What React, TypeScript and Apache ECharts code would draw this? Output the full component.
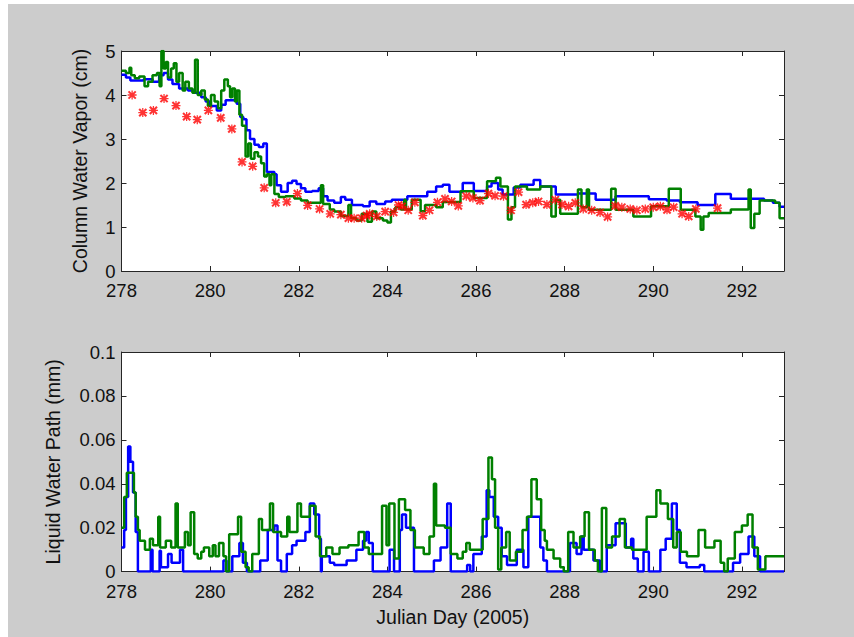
import React, { useEffect, useRef } from "react";
import * as echarts from "echarts";

// ---- x axis ----
const xMin = 278;
const xMax = 292.95;
const xInterval = 2;

// ---- top panel: Column Water Vapor (cm) ----
const cwvBlue: [number, number][] = [
  [278.0, 4.46], [278.1, 4.4], [278.2, 4.33], [278.5, 4.36], [278.7, 4.3], [278.85, 4.45],
  [278.95, 4.5], [279.05, 4.35], [279.15, 4.25], [279.3, 4.15], [279.5, 4.1], [279.65, 4.05],
  [279.8, 3.95], [279.9, 3.85], [280.0, 3.75], [280.15, 3.65], [280.25, 3.78], [280.35, 3.88],
  [280.6, 3.8], [280.68, 3.5], [280.75, 3.45], [280.82, 3.2], [280.9, 3.0], [281.0, 2.87],
  [281.1, 2.82], [281.2, 2.9], [281.28, 2.25], [281.45, 2.2], [281.5, 1.95], [281.6, 1.8],
  [281.75, 2.0], [281.85, 2.05], [281.95, 1.98], [282.05, 1.88], [282.15, 1.8], [282.3, 1.82],
  [282.45, 1.88], [282.55, 1.7], [282.65, 1.6], [282.8, 1.55], [282.95, 1.68], [283.05, 1.62],
  [283.2, 1.5], [283.45, 1.47], [283.6, 1.58], [283.75, 1.52], [283.95, 1.58], [284.1, 1.62],
  [284.45, 1.7], [284.9, 1.8], [285.1, 1.92], [285.25, 1.96], [285.4, 1.8], [285.7, 2.0],
  [285.95, 1.82], [286.25, 1.92], [286.35, 2.0], [286.5, 1.85], [286.6, 1.74], [286.85, 1.9],
  [287.0, 1.96], [287.3, 2.07], [287.45, 1.92], [287.8, 1.74], [288.3, 1.76], [288.7, 1.62],
  [289.15, 1.7], [289.9, 1.63], [290.3, 1.6], [290.6, 1.56], [291.0, 1.5], [291.4, 1.75],
  [291.75, 1.64], [292.5, 1.6], [292.7, 1.55], [292.85, 1.46], [292.95, 1.46],
];

const cwvGreen: [number, number][] = [
  [278.0, 4.55], [278.1, 4.5], [278.18, 4.62], [278.22, 4.45], [278.3, 4.38], [278.4, 4.42],
  [278.52, 4.2], [278.6, 4.3], [278.7, 4.45], [278.8, 4.5], [278.86, 4.2], [278.9, 5.0],
  [278.95, 4.6], [279.0, 4.75], [279.05, 4.4], [279.12, 4.6], [279.18, 4.72], [279.24, 4.3],
  [279.3, 4.5], [279.38, 4.1], [279.44, 4.3], [279.52, 4.15], [279.6, 4.05], [279.66, 4.8],
  [279.72, 4.0], [279.8, 4.1], [279.88, 3.9], [279.95, 3.75], [280.02, 4.0], [280.1, 3.85],
  [280.18, 3.7], [280.25, 4.1], [280.32, 4.35], [280.4, 4.2], [280.45, 3.95], [280.5, 4.15],
  [280.56, 3.85], [280.6, 4.1], [280.66, 3.55], [280.72, 3.3], [280.8, 2.6], [280.86, 2.9],
  [280.92, 2.55], [281.0, 2.7], [281.08, 2.6], [281.15, 2.45], [281.22, 2.15], [281.28, 2.2],
  [281.34, 1.95], [281.38, 2.2], [281.45, 1.75], [281.55, 1.68], [281.7, 1.7], [281.9, 1.65],
  [282.05, 1.6], [282.2, 1.55], [282.5, 1.95], [282.55, 1.52], [282.7, 1.4], [282.8, 1.35],
  [282.95, 1.25], [283.12, 1.5], [283.18, 1.2], [283.3, 1.15], [283.42, 1.3], [283.55, 1.12],
  [283.65, 1.35], [283.75, 1.2], [283.9, 1.15], [284.0, 1.1], [284.08, 1.35], [284.18, 1.45],
  [284.3, 1.4], [284.38, 1.62], [284.42, 1.4], [284.55, 1.62], [284.75, 1.36], [284.85, 1.5],
  [285.1, 1.45], [285.25, 1.57], [285.65, 1.81], [285.95, 1.66], [286.25, 2.04], [286.45, 2.12],
  [286.55, 1.92], [286.72, 1.17], [286.8, 1.45], [286.88, 1.92], [287.15, 1.85], [287.45, 1.92],
  [287.7, 1.24], [287.8, 1.62], [287.9, 1.3], [288.3, 1.85], [288.38, 1.45], [288.5, 1.85],
  [288.55, 1.39], [289.05, 1.87], [289.15, 1.39], [289.55, 1.24], [289.95, 1.47], [290.35, 1.87],
  [290.62, 1.39], [290.95, 1.24], [291.07, 0.94], [291.13, 1.24], [291.25, 1.32], [291.75, 1.4],
  [292.15, 1.85], [292.2, 0.98], [292.28, 1.3], [292.4, 1.6], [292.75, 1.55], [292.85, 1.2],
  [292.95, 1.2],
];

const cwvRed: [number, number][] = [
  [278.24, 4.0], [278.48, 3.6], [278.72, 3.65], [278.96, 3.92], [279.23, 3.76], [279.47, 3.51],
  [279.71, 3.44], [279.96, 3.65], [280.24, 3.48], [280.49, 3.23], [280.72, 2.48], [280.96, 2.38],
  [281.22, 1.89], [281.48, 1.55], [281.73, 1.57], [281.97, 1.76], [282.2, 1.49], [282.47, 1.41],
  [282.71, 1.3], [282.95, 1.28], [283.12, 1.2], [283.25, 1.2], [283.42, 1.2], [283.53, 1.26],
  [283.6, 1.3], [283.76, 1.24], [283.95, 1.35], [284.14, 1.33], [284.25, 1.5], [284.33, 1.47],
  [284.47, 1.38], [284.62, 1.56], [284.8, 1.26], [284.95, 1.38], [285.13, 1.56], [285.3, 1.64],
  [285.45, 1.58], [285.6, 1.48], [285.78, 1.7], [285.93, 1.66], [286.09, 1.6], [286.28, 1.76],
  [286.43, 1.71], [286.62, 1.7], [286.79, 1.38], [286.96, 1.79], [287.13, 1.51], [287.28, 1.55],
  [287.41, 1.58], [287.6, 1.51], [287.79, 1.62], [287.94, 1.51], [288.09, 1.47], [288.24, 1.55],
  [288.42, 1.41], [288.61, 1.38], [288.8, 1.33], [288.97, 1.23], [289.14, 1.48], [289.29, 1.45],
  [289.48, 1.41], [289.63, 1.38], [289.82, 1.41], [290.0, 1.45], [290.16, 1.47], [290.31, 1.39],
  [290.46, 1.45], [290.65, 1.3], [290.8, 1.24], [290.96, 1.41], [291.45, 1.43],
];

const cwvTicks = { min: 0, max: 5, interval: 1 };

// ---- bottom panel: Liquid Water Path (mm) ----
const lwpBlue: [number, number][] = [
  [278.0, 0.011], [278.06, 0.019], [278.1, 0.034], [278.15, 0.057], [278.2, 0.05], [278.26, 0.036],
  [278.32, 0.018], [278.37, 0.0], [278.66, 0.01], [278.7, 0.0], [278.86, 0.0095], [278.89, 0.002],
  [279.05, 0.008], [279.13, 0.004], [279.32, 0.01], [279.39, 0.0], [280.3, 0.005], [280.37, 0.0],
  [280.5, 0.007], [280.66, 0.013], [280.74, 0.004], [280.83, 0.0], [281.13, 0.005], [281.3, 0.019],
  [281.45, 0.021], [281.52, 0.005], [281.6, 0.0], [281.73, 0.008], [281.85, 0.012], [281.95, 0.014],
  [282.15, 0.018], [282.25, 0.031], [282.35, 0.026], [282.46, 0.015], [282.5, 0.0], [282.52, 0.007],
  [282.7, 0.004], [282.8, 0.003], [283.08, 0.005], [283.3, 0.01], [283.45, 0.014], [283.52, 0.018],
  [283.58, 0.013], [283.67, 0.0], [284.05, 0.01], [284.15, 0.0], [284.28, 0.019], [284.33, 0.026],
  [284.42, 0.02], [284.6, 0.0], [285.05, 0.005], [285.2, 0.011], [285.35, 0.031], [285.43, 0.0],
  [285.8, 0.003], [285.87, 0.0], [285.94, 0.008], [286.13, 0.016], [286.24, 0.037], [286.3, 0.034],
  [286.4, 0.025], [286.5, 0.02], [286.58, 0.007], [286.7, 0.003], [286.92, 0.01], [287.07, 0.002],
  [287.18, 0.025], [287.45, 0.011], [287.52, 0.005], [287.6, 0.0], [288.12, 0.013], [288.27, 0.008],
  [288.38, 0.016], [288.43, 0.01], [288.65, 0.005], [288.8, 0.0], [288.95, 0.012], [289.15, 0.022],
  [289.38, 0.011], [289.5, 0.015], [289.55, 0.006], [289.65, 0.0], [289.78, 0.009], [289.9, 0.0],
  [290.16, 0.01], [290.28, 0.015], [290.42, 0.031], [290.53, 0.019], [290.6, 0.004], [290.75, 0.002],
  [291.05, 0.003], [291.15, 0.0], [291.8, 0.004], [291.96, 0.008], [292.15, 0.016], [292.28, 0.007],
  [292.41, 0.0], [292.95, 0.0],
];

const lwpGreen: [number, number][] = [
  [278.0, 0.02], [278.06, 0.034], [278.12, 0.045], [278.28, 0.036], [278.32, 0.025], [278.37, 0.019],
  [278.41, 0.014], [278.53, 0.01], [278.64, 0.015], [278.71, 0.012], [278.83, 0.025], [278.87, 0.011],
  [279.0, 0.014], [279.12, 0.011], [279.22, 0.031], [279.27, 0.011], [279.43, 0.018], [279.5, 0.012],
  [279.56, 0.027], [279.64, 0.008], [279.72, 0.006], [279.8, 0.009], [279.86, 0.011], [279.98, 0.007],
  [280.06, 0.012], [280.12, 0.007], [280.2, 0.013], [280.3, 0.007], [280.36, 0.0], [280.43, 0.017],
  [280.63, 0.025], [280.7, 0.009], [280.8, 0.002], [280.87, 0.0], [280.95, 0.008], [281.1, 0.024],
  [281.17, 0.019], [281.35, 0.031], [281.42, 0.018], [281.6, 0.016], [281.74, 0.025], [281.79, 0.018],
  [281.97, 0.031], [282.05, 0.025], [282.25, 0.03], [282.38, 0.016], [282.48, 0.007], [282.62, 0.011],
  [282.76, 0.008], [282.92, 0.011], [283.12, 0.012], [283.35, 0.018], [283.48, 0.011], [283.58, 0.008],
  [283.88, 0.03], [283.98, 0.012], [284.04, 0.031], [284.16, 0.006], [284.26, 0.033], [284.4, 0.028],
  [284.52, 0.019], [284.62, 0.011], [284.82, 0.008], [284.95, 0.016], [285.05, 0.04], [285.1, 0.021],
  [285.3, 0.02], [285.43, 0.008], [285.58, 0.006], [285.7, 0.009], [285.78, 0.013], [285.86, 0.01],
  [286.15, 0.024], [286.28, 0.052], [286.36, 0.042], [286.43, 0.02], [286.5, 0.001], [286.57, 0.011],
  [286.68, 0.018], [286.76, 0.005], [286.9, 0.009], [287.05, 0.019], [287.15, 0.025], [287.25, 0.042],
  [287.37, 0.033], [287.47, 0.019], [287.55, 0.014], [287.6, 0.01], [287.75, 0.006], [287.9, 0.002],
  [287.98, 0.0], [288.08, 0.018], [288.2, 0.011], [288.35, 0.016], [288.45, 0.027], [288.55, 0.01],
  [288.68, 0.005], [288.75, 0.0], [288.84, 0.029], [288.94, 0.011], [289.07, 0.016], [289.24, 0.024],
  [289.36, 0.011], [289.52, 0.01], [289.85, 0.025], [290.07, 0.037], [290.16, 0.031], [290.33, 0.024],
  [290.45, 0.011], [290.53, 0.018], [290.62, 0.009], [290.76, 0.007], [291.02, 0.019], [291.17, 0.011],
  [291.38, 0.014], [291.52, 0.004], [291.6, 0.0], [291.68, 0.006], [291.84, 0.018], [292.0, 0.021],
  [292.13, 0.026], [292.24, 0.011], [292.36, 0.001], [292.53, 0.007], [292.95, 0.007],
];

const lwpTicks = { min: 0, max: 0.1, interval: 0.02 };

const labels = {
  cwv: "Column Water Vapor (cm)",
  lwp: "Liquid Water Path (mm)",
  x: "Julian Day (2005)",
};

const BLUE = "#0000ff";
const GREEN = "#008000";
const RED = "#ff0000";
const AX = "#262626";
const FONT = "Arial, 'Liberation Sans', sans-serif";

const STAR =
  "path://M0,4.3L10,4.3L10,5.7L0,5.7Z M4.3,0L5.7,0L5.7,10L4.3,10Z M0.2,1.8L1.8,0.2L9.8,8.2L8.2,9.8Z M8.2,0.2L9.8,1.8L1.8,9.8L0.2,8.2Z";

export default function App() {
  const ref = useRef<HTMLDivElement>(null);

  useEffect(() => {
    if (!ref.current) return;
    const chart = echarts.init(ref.current, undefined, { renderer: "svg" });

    const axisLine = { show: true, onZero: false, lineStyle: { color: AX, width: 1 } };
    const tick = { show: true, inside: true, length: 5, lineStyle: { color: AX, width: 1 } };
    const lbl = { color: "#111", fontSize: 19, fontFamily: FONT };
    const nameStyle = { color: "#111", fontSize: 19.5, fontFamily: FONT };
    const xLabelFmt = (v: number) => (Math.abs(v - Math.round(v)) < 1e-6 ? String(Math.round(v)) : "");

    const xBase = (grid: number, pos: "top" | "bottom", showLabel: boolean, name?: string) => ({
      type: "value",
      gridIndex: grid,
      position: pos,
      min: xMin,
      max: xMax,
      interval: xInterval,
      axisLine,
      axisTick: tick,
      splitLine: { show: false },
      axisLabel: showLabel
        ? { ...lbl, fontSize: 18.5, margin: 10, showMaxLabel: false, formatter: xLabelFmt }
        : { show: false },
      name: name,
      nameLocation: "middle",
      nameGap: 35,
      nameTextStyle: nameStyle,
    });

    const yBase = (
      grid: number,
      pos: "left" | "right",
      t: { min: number; max: number; interval: number },
      showLabel: boolean,
      name?: string,
      gap?: number
    ) => ({
      type: "value",
      gridIndex: grid,
      position: pos,
      min: t.min,
      max: t.max,
      interval: t.interval,
      axisLine,
      axisTick: tick,
      splitLine: { show: false },
      axisLabel: showLabel ? { ...lbl, fontSize: 18.5, margin: 6 } : { show: false },
      name: name,
      nameLocation: "middle",
      nameGap: gap ?? 30,
      nameTextStyle: nameStyle,
    });

    const lineSeries = (data: [number, number][], color: string, xi: number, yi: number, z: number) => ({
      type: "line",
      xAxisIndex: xi,
      yAxisIndex: yi,
      data,
      step: "end",
      showSymbol: false,
      symbol: "none",
      lineStyle: { color, width: 2.5 },
      itemStyle: { color },
      z,
      silent: true,
    });

    chart.setOption({
      animation: false,
      grid: [
        { left: 121.5, top: 51, width: 662.5, height: 220, show: true, backgroundColor: "#ffffff", borderWidth: 0 },
        { left: 121.5, top: 352, width: 662.5, height: 219.6, show: true, backgroundColor: "#ffffff", borderWidth: 0 },
      ],
      xAxis: [
        xBase(0, "bottom", true),
        xBase(0, "top", false),
        xBase(1, "bottom", true, labels.x),
        xBase(1, "top", false),
      ],
      yAxis: [
        yBase(0, "left", cwvTicks, true, labels.cwv, 32),
        yBase(0, "right", cwvTicks, false),
        yBase(1, "left", lwpTicks, true, labels.lwp, 59),
        yBase(1, "right", lwpTicks, false),
      ],
      series: [
        lineSeries(cwvBlue, BLUE, 0, 0, 2),
        lineSeries(cwvGreen, GREEN, 0, 0, 3),
        {
          type: "scatter",
          xAxisIndex: 0,
          yAxisIndex: 0,
          data: cwvRed,
          symbol: STAR,
          symbolSize: 9,
          itemStyle: { color: RED },
          z: 4,
          silent: true,
        },
        lineSeries(lwpBlue, BLUE, 2, 2, 2),
        lineSeries(lwpGreen, GREEN, 2, 2, 3),
      ],
    });

    return () => chart.dispose();
  }, []);

  return (
    <div style={{ position: "fixed", left: 0, top: 0, width: 854, height: 637, background: "#ffffff" }}>
      <div style={{ position: "absolute", left: 8, top: 4, right: 0, bottom: 0, background: "#cccccc" }} />
      <div ref={ref} style={{ position: "absolute", left: 0, top: 0, width: 854, height: 637 }} />
    </div>
  );
}
